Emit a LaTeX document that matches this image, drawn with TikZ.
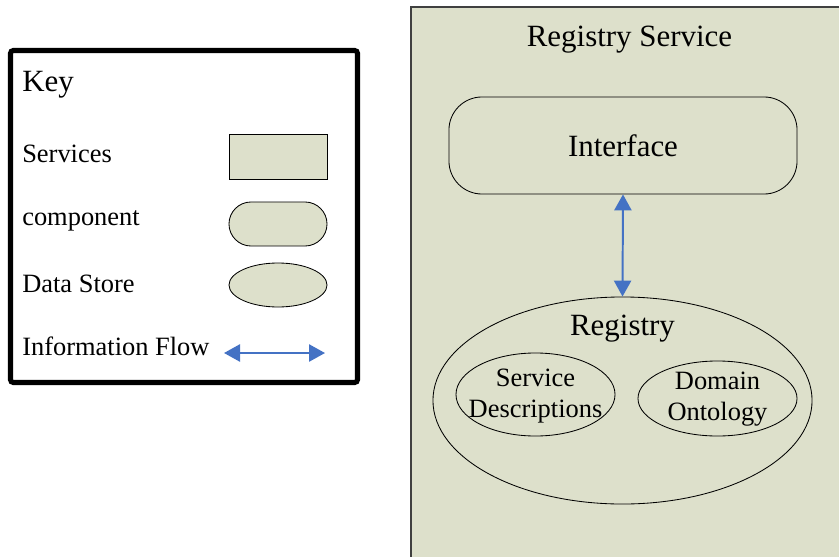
\documentclass[tikz,border=0pt]{standalone}
\usepackage{fontspec}
\setmainfont{Liberation Serif}
\usetikzlibrary{arrows.meta,shapes.geometric}
\definecolor{svcfill}{RGB}{221,224,203}
\definecolor{flowblue}{RGB}{68,114,196}

\begin{document}
\begin{tikzpicture}[x=0.025cm,y=-0.025cm,
        bigtext/.style={font=\fontsize{22}{26}\selectfont,inner sep=0pt},
        smalltext/.style={font=\fontsize{18.8}{22.6}\selectfont,inner sep=0pt},
        symbol/.style={draw=black,line width=0.6pt,fill=svcfill,inner sep=0pt},
        svcbox/.style={symbol,rectangle,minimum width=2.45cm,minimum height=1.125cm},
        compbox/.style={symbol,rectangle,rounded corners=0.55cm,minimum width=2.45cm,minimum height=1.1cm},
        storebox/.style={symbol,ellipse,minimum width=2.45cm,minimum height=1.1cm},
        flow/.style={color=flowblue,line width=1.4pt,
            {Triangle[width=0.43cm,length=0.4cm]}-{Triangle[width=0.43cm,length=0.4cm]}},
        keyframe/.style={draw=black,line width=3.6pt,rounded corners=2pt}]
    \useasboundingbox (0,0) rectangle (839,557);

    \draw[keyframe] (10.5,50.5) rectangle (357.5,382.5);
    \node[bigtext,anchor=base west] (keytitle) at (22,92) {Key};
    \node[smalltext,anchor=base west] (keysvc) at (22,163) {Services};
    \node[smalltext,anchor=base west] (keycomp) at (22,225) {component};
    \node[smalltext,anchor=base west] (keystore) at (22,292) {Data Store};
    \node[smalltext,anchor=base west] (keyflow) at (22,355) {Information Flow};
    \node[svcbox] (svcsym) at (278,156.5) {};
    \node[compbox] (compsym) at (278,224) {};
    \node[storebox] (storesym) at (278,285) {};
    \coordinate (flowl) at (224,353);
    \coordinate (flowr) at (325,353);
    \draw[flow] (flowl) -- (flowr);

    \filldraw[fill=svcfill,draw=black!75,line width=0.9pt] (411,7) rectangle (850,570);
    \node[bigtext,anchor=base] (regsvc) at (629.5,47) {Registry Service};
    \node[symbol,bigtext,rectangle,rounded corners=0.825cm,
        minimum width=8.7cm,minimum height=2.425cm] (iface) at (623,145.5) {Interface};
    \node[symbol,ellipse,minimum width=9.475cm,minimum height=5.175cm] (registry) at (622.5,400.5) {};
    \node[bigtext,anchor=base] (registrylbl) at (622.5,335) {Registry};
    \node[symbol,ellipse,minimum width=3.975cm,minimum height=2.075cm] (svcdesc) at (535.5,394.5) {};
    \node[smalltext,align=center] (svcdesclbl) at (535.5,396) {Service\\Descriptions};
    \node[symbol,ellipse,minimum width=3.975cm,minimum height=1.875cm] (domont) at (717.5,398.5) {};
    \node[smalltext,align=center] (domontlbl) at (717.5,399) {Domain\\Ontology};
    \draw[flow] (iface.south) -- (registry.north);
\end{tikzpicture}
\end{document}
